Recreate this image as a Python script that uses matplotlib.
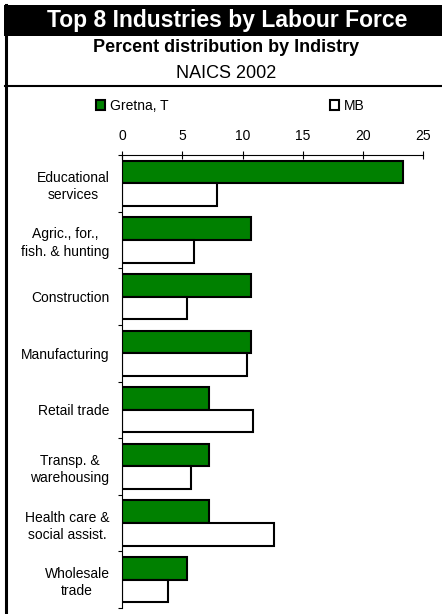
import matplotlib
matplotlib.use("Agg")
from matplotlib import pyplot as plt
from matplotlib.patches import Rectangle, Patch
from matplotlib.lines import Line2D
import numpy as np

plt.rcParams['font.family'] = ['Liberation Sans', 'DejaVu Sans']

# data
industries = ["Educational\nservices", "Agric., for.,\nfish. & hunting", "Construction",
              "Manufacturing", "Retail trade", "Transp. &\nwarehousing",
              "Health care &\nsocial assist.", "Wholesale\ntrade"]
gretna = [23.3, 10.7, 10.7, 10.7, 7.2, 7.2, 7.2, 5.4]
mb = [7.9, 6.0, 5.4, 10.4, 10.9, 5.7, 12.6, 3.8]
xticks = [0, 5, 10, 15, 20, 25]

W, H = 442, 614
fig = plt.figure(figsize=(W / 100, H / 100), dpi=100)

def fx(px):
    return px / W

def fy(py):
    return 1 - py / H

# frame: black title bar, left border, separator line
fig.patches.append(Rectangle((fx(4), fy(36)), fx(W - 4), 31 / H, transform=fig.transFigure,
                             facecolor="black", edgecolor="none"))
fig.lines.append(Line2D([fx(5.5), fx(5.5)], [fy(5), fy(H)], transform=fig.transFigure,
                        color="black", lw=2.2))
fig.lines.append(Line2D([fx(5), 1], [fy(85.5), fy(85.5)], transform=fig.transFigure,
                        color="black", lw=1.5))

fig.text(fx(227), fy(21), "Top 8 Industries by Labour Force", color="white",
         fontsize=16.5, fontweight="bold", ha="center", va="center")
fig.text(fx(226), fy(48), "Percent distribution by Indistry", fontsize=13,
         fontweight="bold", ha="center", va="center")
fig.text(fx(226), fy(74), "NAICS 2002", fontsize=13, ha="center", va="center")

ax = fig.add_axes([fx(122), fy(608), fx(423.3) - fx(122), (608 - 155) / H])

y = np.arange(len(industries))
ax.barh(y - 0.2, gretna, height=0.4, color="#008000", edgecolor="black", lw=1.5,
        label="Gretna, T")
ax.barh(y + 0.2, mb, height=0.4, color="white", edgecolor="black", lw=1.5, label="MB")

ax.set_xlim(0, 25)
ax.set_ylim(len(industries) - 0.5, -0.5)
ax.xaxis.tick_top()
ax.set_xticks(xticks)
ax.tick_params(axis="x", direction="inout", length=6, width=0.8, labelsize=10, pad=6)

ax.set_yticks(np.arange(len(industries) + 1) - 0.5)
ax.set_yticklabels([])
ax.tick_params(axis="y", which="major", direction="out", length=3, width=0.8)
ax.set_yticks(y, minor=True)
ax.set_yticklabels(industries, minor=True, fontsize=10, linespacing=1.3,
                   multialignment="center")
ax.tick_params(axis="y", which="minor", length=0, pad=9)

for s in ["right", "bottom"]:
    ax.spines[s].set_visible(False)
ax.spines["top"].set_linewidth(0.8)
ax.spines["left"].set_linewidth(0.8)

ax.legend(handles=[Patch(facecolor="#008000", edgecolor="black", lw=1.5, label="Gretna, T"),
                   Patch(facecolor="white", edgecolor="black", lw=1.5, label="MB")],
          ncol=2, frameon=False, fontsize=10, handlelength=0.65, handleheight=0.65,
          handletextpad=0.35, columnspacing=11.6, borderpad=0, borderaxespad=0,
          loc="center left", bbox_to_anchor=(fx(96), fy(106)),
          bbox_transform=fig.transFigure)

fig.savefig("out.png", dpi=100)
